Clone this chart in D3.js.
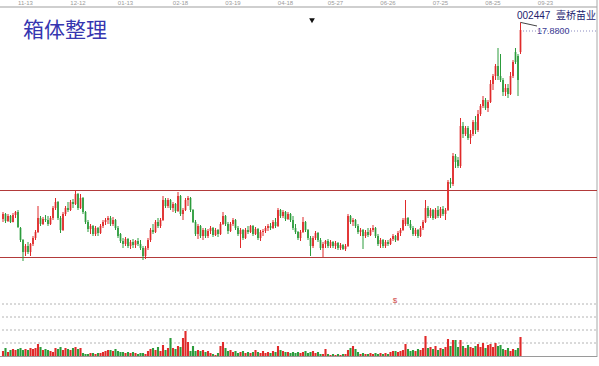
<!DOCTYPE html>
<html>
<head>
<meta charset="utf-8">
<script src="https://cdn.jsdelivr.net/npm/d3@7"></script>
<style>
  html, body { margin: 0; padding: 0; background: #fff; }
  #chart { width: 599px; height: 366px; }
</style>
</head>
<body>
<div id="chart"></div>
<script>
// chart values (one entry per trading day)
const tickLabels = ["11-13", "12-12", "01-13", "02-18", "03-19", "04-18", "05-27", "06-26", "07-25", "08-25", "09-23"];
const tickIndex = [9, 30, 49, 71, 92, 113, 133, 154, 175, 196, 217];

const opens = [
  8.05,8.3,7.95,8.2,7.9,8.25,8.4,7.6,7.0,6.4,
  6.7,6.4,6.8,7.1,7.4,8.1,7.8,8.05,8.0,7.8,
  8.1,8.6,8.9,8.1,7.5,8.3,8.6,8.5,8.9,8.8,
  9.3,8.6,9.1,8.4,7.9,7.55,7.7,7.3,7.6,7.35,
  7.7,7.9,8.0,8.1,7.8,8.0,7.6,7.3,6.95,6.8,
  7.05,6.7,6.9,6.75,6.95,6.8,6.6,6.2,6.6,7.0,
  7.5,7.4,7.9,7.7,8.0,9.0,8.7,9.0,8.6,8.8,
  8.45,9.2,8.3,8.5,9.0,9.1,8.5,7.9,7.3,7.7,
  7.2,7.5,7.2,7.45,7.6,7.25,7.5,7.3,7.8,8.2,
  7.8,7.45,7.8,8.0,7.6,7.3,7.5,7.1,7.5,7.4,
  7.7,7.3,7.55,7.1,7.4,7.45,7.6,7.7,7.6,7.9,
  7.7,8.5,8.2,8.4,8.05,8.3,8.0,7.6,7.4,7.1,
  7.4,7.9,7.5,7.1,6.7,7.1,7.35,7.0,6.6,6.8,
  6.95,6.7,6.9,6.7,6.85,6.6,6.75,6.55,6.7,8.2,
  7.9,8.0,7.7,7.4,7.5,7.2,7.4,7.25,7.5,7.6,
  7.2,6.8,7.0,6.7,6.9,6.8,7.05,7.2,7.0,7.35,
  7.5,7.8,8.1,7.8,7.6,7.3,7.5,7.2,7.6,7.9,
  8.6,8.2,8.5,8.1,8.5,8.2,8.55,8.3,8.5,9.9,
  9.8,11.2,11.0,10.7,12.7,12.3,12.6,12.1,12.3,12.9,
  12.5,13.3,13.7,14.0,13.6,13.9,14.8,15.2,15.7,15.2,
  15.0,14.4,14.6,14.3,15.2,16.4,16.2,16.4
];
const highs = [
  8.4,8.35,8.3,8.25,8.35,8.45,8.5,7.65,7.05,6.8,
  6.9,6.85,7.2,7.5,8.7,8.2,8.15,8.25,8.2,8.2,
  8.7,9.1,8.95,8.2,8.4,8.7,8.9,9.0,9.05,9.5,
  9.35,9.3,9.15,8.45,8.0,7.8,7.75,7.7,7.65,7.8,
  8.0,8.1,8.2,8.2,8.15,8.05,7.7,7.35,7.1,7.15,
  7.1,7.0,7.05,7.0,7.1,7.0,6.7,6.7,7.1,7.6,
  7.8,8.0,8.1,8.1,9.2,9.1,9.1,9.05,8.9,8.85,
  9.4,9.25,8.6,9.1,9.2,9.15,8.55,8.0,7.8,7.75,
  7.6,7.6,7.55,7.7,7.65,7.6,7.55,7.9,8.4,8.25,
  7.9,7.9,8.1,8.05,7.7,7.6,7.55,7.6,7.7,7.75,
  7.75,7.65,7.6,7.5,7.55,7.7,7.8,7.85,8.0,8.1,
  8.6,8.55,8.5,8.45,8.4,8.35,8.2,7.8,7.45,7.5,
  8.15,7.95,7.55,7.2,7.2,7.45,7.4,7.1,6.9,7.0,
  7.05,7.0,6.95,6.95,6.9,6.85,6.8,6.8,8.3,8.25,
  8.1,8.05,7.8,7.6,7.55,7.5,7.6,7.6,7.75,7.65,
  7.3,7.1,7.05,7.0,7.0,7.1,7.3,7.25,7.45,7.6,
  8.1,9.0,8.15,8.0,7.7,7.6,7.55,7.7,8.0,9.0,
  8.7,8.6,8.55,8.6,8.7,8.65,8.7,8.6,10.0,10.1,
  11.35,11.3,11.15,13.1,12.9,12.7,12.7,12.5,13.0,13.2,
  13.5,13.8,14.2,14.1,14.0,15.0,15.3,15.8,16.6,16.3,
  15.1,14.8,14.8,15.4,16.0,16.6,16.3,17.88
];
const lows = [
  7.9,7.85,7.9,7.85,7.88,8.1,7.6,6.9,5.95,6.2,
  6.3,6.2,6.7,7.0,7.35,7.7,7.75,7.9,7.7,7.75,
  8.0,8.5,8.0,7.35,7.45,8.2,8.4,8.45,8.6,8.75,
  8.5,8.55,8.3,7.8,7.4,7.3,7.2,7.2,7.2,7.3,
  7.6,7.75,7.8,7.7,7.7,7.5,7.1,6.85,6.6,6.7,
  6.6,6.55,6.6,6.6,6.7,6.5,6.0,6.05,6.5,6.9,
  7.3,7.35,7.6,7.6,7.95,8.6,8.6,8.5,8.4,8.35,
  8.4,8.2,8.0,8.45,8.7,8.4,7.85,7.2,7.05,7.1,
  7.0,7.1,7.1,7.3,7.15,7.2,7.15,7.25,7.75,7.7,
  7.3,7.4,7.7,7.5,7.2,6.6,7.0,7.05,7.3,7.35,
  7.2,7.25,7.0,6.95,7.2,7.35,7.45,7.5,7.55,7.6,
  7.65,8.1,8.1,7.95,8.0,7.9,7.5,7.3,7.0,6.95,
  7.35,7.4,7.0,6.2,6.6,7.0,6.9,6.5,6.15,6.6,
  6.6,6.6,6.6,6.55,6.5,6.5,6.5,6.45,6.65,7.8,
  7.7,7.6,7.3,7.2,6.55,7.1,7.15,7.2,7.4,7.1,
  6.7,6.6,6.6,6.6,6.7,6.75,6.95,6.9,6.95,7.2,
  7.45,7.7,7.7,7.5,7.2,7.2,7.1,7.15,7.5,7.85,
  8.1,8.1,8.0,8.05,8.1,8.1,8.2,8.0,8.45,9.6,
  9.7,10.6,10.6,10.6,12.1,12.2,12.0,11.8,12.2,12.3,
  12.4,13.2,13.6,13.5,13.4,13.85,14.5,15.0,15.0,14.9,
  14.2,14.2,14.1,14.25,15.1,15.8,14.2,16.3
];
const closes = [
  8.3,7.95,8.2,7.9,8.25,8.4,7.65,7.0,6.4,6.7,
  6.4,6.8,7.1,7.4,8.1,7.8,8.05,8.0,7.8,8.1,
  8.6,8.9,8.1,7.5,8.3,8.6,8.5,8.9,8.8,9.3,
  8.6,9.1,8.4,7.9,7.55,7.7,7.3,7.6,7.35,7.7,
  7.9,8.0,8.1,7.8,8.0,7.6,7.2,6.95,6.8,7.05,
  6.7,6.9,6.75,6.95,6.8,6.6,6.2,6.6,7.0,7.5,
  7.4,7.9,7.7,8.0,9.0,8.7,9.0,8.6,8.8,8.45,
  9.2,8.3,8.5,9.0,9.1,8.5,7.9,7.3,7.7,7.2,
  7.5,7.2,7.45,7.6,7.25,7.5,7.3,7.8,8.2,7.8,
  7.45,7.8,8.0,7.6,7.3,7.5,7.1,7.5,7.4,7.7,
  7.3,7.55,7.1,7.4,7.45,7.6,7.7,7.6,7.9,7.7,
  8.5,8.2,8.4,8.05,8.3,8.0,7.6,7.4,7.1,7.4,
  7.9,7.5,7.1,6.7,7.1,7.35,7.0,6.6,6.8,6.95,
  6.7,6.9,6.7,6.85,6.6,6.75,6.55,6.7,8.2,7.9,
  8.0,7.7,7.4,7.5,7.2,7.4,7.25,7.5,7.6,7.2,
  6.8,7.0,6.7,6.9,6.8,7.05,7.2,7.0,7.35,7.5,
  8.0,8.1,7.8,7.6,7.3,7.5,7.2,7.6,7.9,8.6,
  8.2,8.5,8.1,8.5,8.2,8.55,8.3,8.5,9.9,9.8,
  11.2,10.9,10.7,12.7,12.3,12.6,12.1,12.3,12.9,12.5,
  13.3,13.7,14.0,13.6,13.9,14.8,15.2,15.7,15.2,15.0,
  14.4,14.6,14.3,15.2,15.9,15.9,15.0,17.5
];
// volume, 万手
const volumes = [
  0.5,0.8,0.4,0.6,0.7,0.6,0.7,0.8,0.6,0.7,
  0.6,0.8,0.7,0.8,1.2,0.9,0.6,0.7,0.6,0.5,
  0.4,0.8,0.7,0.9,0.6,0.8,0.7,0.6,0.8,0.9,
  0.7,0.8,0.3,0.2,0.2,0.3,0.3,0.2,0.3,0.3,
  0.4,0.5,0.6,0.6,0.5,0.7,0.5,0.4,0.4,0.3,
  0.4,0.3,0.4,0.3,0.2,0.3,0.3,0.2,0.5,0.7,
  0.8,0.6,0.9,0.5,1.1,0.6,0.8,1.8,0.8,0.7,
  1.0,0.9,1.8,2.5,1.4,0.5,1.0,0.5,0.6,0.5,
  0.6,0.4,0.5,0.3,0.2,0.1,0.3,1.0,1.4,0.8,
  0.5,0.6,0.4,0.5,0.3,0.4,0.5,0.3,0.4,0.3,
  0.4,0.6,0.4,0.3,0.5,0.3,0.4,0.3,0.5,0.4,
  1.0,0.6,0.5,0.4,0.4,0.3,0.4,0.3,0.4,0.3,
  0.4,0.5,0.3,0.4,0.5,0.3,0.4,0.2,0.2,0.7,
  0.2,0.1,0.2,0.1,0.2,0.1,0.2,0.2,0.6,0.8,
  1.0,0.7,0.4,0.2,0.3,0.2,0.2,0.3,0.2,0.3,
  0.2,0.3,0.2,0.3,0.2,0.4,0.5,0.5,0.4,0.5,
  0.6,1.2,0.7,0.5,0.6,0.5,0.7,0.6,0.8,2.0,
  0.8,0.9,0.7,1.0,0.6,0.8,0.7,0.9,1.7,1.0,
  1.6,1.6,0.9,1.6,1.0,0.8,1.1,0.9,0.8,1.0,
  1.2,0.9,1.3,0.8,1.1,1.2,0.9,1.3,1.0,1.1,
  0.7,0.6,0.8,0.5,0.7,0.6,0.8,1.9
];
const boxLevels = [9.475, 6.125];
const highMark = 17.88;
const stockName = "002447  壹桥苗业";
const title = "箱体整理";

document.addEventListener('DOMContentLoaded', () => {
  // 1. basic sizes
  const width = 599;
  const height = 366;
  const rightEdge = 597;
  const bodyW = 1.7;

  const n = Math.min(opens.length, highs.length, lows.length, closes.length, volumes.length);
  const bars = d3.range(n).map(i => ({
    i, o: opens[i], h: highs[i], l: lows[i], c: closes[i], v: volumes[i]
  }));

  const up = "#e02a2a";
  const down = "#2c9c3c";
  const colorOf = d => d.c >= d.o ? up : down;

  // 2. svg
  const svg = d3.select("#chart")
    .append("svg")
    .attr("width", width)
    .attr("height", height)
    .style("font-family", "'Liberation Sans', 'DejaVu Sans', sans-serif");

  svg.append("rect").attr("width", width).attr("height", height).attr("fill", "#fff");

  // 3. scales
  const x = d3.scaleLinear().domain([0, 207]).range([3, 520.5]);
  const y = d3.scaleLinear().domain([5.5, 18.6]).range([270, 8]);
  const yVol = d3.scaleLinear().domain([0, 5.2]).range([356, 304]);

  // 4. top date axis
  svg.append("line")
    .attr("x1", 0).attr("x2", rightEdge)
    .attr("y1", 7).attr("y2", 7)
    .attr("stroke", "#cfcfcf").attr("stroke-width", 2);

  svg.selectAll(".tick-label")
    .data(tickLabels)
    .enter()
    .append("text")
    .attr("class", "tick-label")
    .attr("x", (d, k) => x(tickIndex[k]))
    .attr("y", 5)
    .attr("text-anchor", "middle")
    .attr("font-size", 6)
    .attr("fill", "#9a9a9a")
    .text(d => d);

  // right border
  svg.append("line")
    .attr("x1", rightEdge).attr("x2", rightEdge)
    .attr("y1", 0).attr("y2", 357)
    .attr("stroke", "#a8a8a8");

  // 5. box lines
  svg.selectAll(".box-line")
    .data(boxLevels)
    .enter()
    .append("line")
    .attr("class", "box-line")
    .attr("x1", 0).attr("x2", rightEdge)
    .attr("y1", d => y(d)).attr("y2", d => y(d))
    .attr("stroke", "#b23a3a").attr("stroke-width", 1.2);

  // 6. candles
  const candle = svg.append("g").selectAll("g")
    .data(bars)
    .enter()
    .append("g");

  candle.append("line")
    .attr("x1", d => x(d.i)).attr("x2", d => x(d.i))
    .attr("y1", d => y(d.h)).attr("y2", d => y(d.l))
    .attr("stroke", colorOf).attr("stroke-width", 1);

  candle.append("rect")
    .attr("x", d => x(d.i) - bodyW / 2)
    .attr("width", bodyW)
    .attr("y", d => y(Math.max(d.o, d.c)))
    .attr("height", d => Math.max(1, Math.abs(y(d.o) - y(d.c))))
    .attr("fill", colorOf);

  // 7. volume panel
  const volTicks = d3.range(1, 5).map(k => 5.2 * k / 4);
  svg.selectAll(".vol-grid")
    .data(volTicks)
    .enter()
    .append("line")
    .attr("class", "vol-grid")
    .attr("x1", 2).attr("x2", rightEdge)
    .attr("y1", d => yVol(d)).attr("y2", d => yVol(d))
    .attr("stroke", "#b4b4b4").attr("stroke-dasharray", "2,2");

  svg.append("line")
    .attr("x1", 0).attr("x2", rightEdge)
    .attr("y1", yVol(0) + 0.5).attr("y2", yVol(0) + 0.5)
    .attr("stroke", "#9a9a9a");

  svg.append("g").selectAll("rect")
    .data(bars)
    .enter()
    .append("rect")
    .attr("x", d => x(d.i) - bodyW / 2 - 0.2)
    .attr("width", bodyW + 0.4)
    .attr("y", d => yVol(d.v))
    .attr("height", d => yVol(0) - yVol(d.v))
    .attr("fill", colorOf);

  svg.append("text")
    .attr("x", 395).attr("y", 303)
    .attr("text-anchor", "middle")
    .attr("font-size", 8)
    .attr("fill", "#d04848")
    .text("$");

  // 8. labels
  svg.append("text")
    .attr("x", 23).attr("y", 37)
    .attr("font-family", "'Noto Sans CJK SC', sans-serif")
    .attr("font-size", 21)
    .attr("fill", "#3636b0")
    .text(title);

  svg.append("text")
    .attr("x", 517).attr("y", 19)
    .attr("font-family", "'Liberation Sans', 'Noto Sans CJK SC', sans-serif")
    .attr("font-size", 10)
    .attr("fill", "#23236e")
    .style("white-space", "pre")
    .text(stockName);

  svg.append("path")
    .attr("d", d3.symbol(d3.symbolTriangle, 14)())
    .attr("transform", "translate(312,20) rotate(180)")
    .attr("fill", "#111");

  // highest price marker
  const last = bars[n - 1];
  svg.append("line")
    .attr("x1", x(last.i)).attr("y1", y(highMark))
    .attr("x2", 537).attr("y2", 26)
    .attr("stroke", "#444");

  svg.append("line")
    .attr("x1", 523).attr("x2", rightEdge)
    .attr("y1", 31).attr("y2", 31)
    .attr("stroke", "#8a8ac0").attr("stroke-dasharray", "1,2");

  svg.append("text")
    .attr("x", 537).attr("y", 34)
    .attr("font-size", 9)
    .attr("fill", "#3d3d95")
    .text(d3.format(".4f")(highMark));
});
</script>
</body>
</html>
